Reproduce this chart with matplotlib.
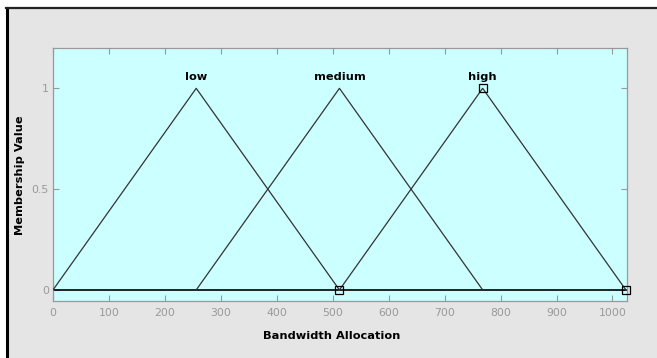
import matplotlib
matplotlib.use("Agg")
import matplotlib.pyplot as plt
from matplotlib.patches import Rectangle
from matplotlib.lines import Line2D

mf_names = ["low", "medium", "high"]
mf_params = [[0, 256, 512], [256, 512, 768], [512, 768, 1024]]
x_range = [0, 1024]
xticks = [0, 100, 200, 300, 400, 500, 600, 700, 800, 900, 1000]
yticks = [0, 0.5, 1]
ytick_labels = ["0", "0.5", "1"]
selected = 2

W, H = 657, 358
fig = plt.figure(figsize=(W / 100, H / 100), dpi=100)
fig.patch.set_facecolor("white")
# gray panel with dark frame on top/left
fig.patches.append(Rectangle((8 / W, 0), 1, (H - 9) / H, transform=fig.transFigure,
                             facecolor="#e5e5e5", edgecolor="none", zorder=-10))
fig.lines.append(Line2D([7 / W, 7 / W], [0, (H - 8) / H], transform=fig.transFigure,
                        color="black", lw=2.2, zorder=-5))
fig.lines.append(Line2D([6 / W, 1], [(H - 8) / H, (H - 8) / H], transform=fig.transFigure,
                        color="#222222", lw=1.6, zorder=-5))

ax = fig.add_axes([53 / W, (H - 301) / H, (627 - 53) / W, (301 - 48) / H])
ax.set_zorder(5)
ax.set_facecolor("#ccffff")
ax.set_xlim(x_range[0], x_range[1] + 2)
ax.set_ylim(-0.055, 1.2)

ax.plot(x_range, [0, 0], color="black", lw=1.2, zorder=2)
for name, (a, b, c) in zip(mf_names, mf_params):
    ax.plot([a, b, c], [0, 1, 0], color="#333333", lw=0.9, zorder=3)
    ax.text(b, 1.03, name, ha="center", va="bottom", fontsize=8.2, fontweight="bold",
            family="DejaVu Sans")
a, b, c = mf_params[selected]
ax.plot([a, b, c], [0, 1, 0], linestyle="none", marker="s", markersize=5.5,
        markerfacecolor="none", markeredgecolor="black", markeredgewidth=0.9, zorder=4,
        clip_on=False)

ax.set_xticks(xticks)
ax.set_yticks(yticks)
ax.set_yticklabels(ytick_labels)
ax.tick_params(direction="in", top=True, right=True, colors="#999999", labelcolor="#999999",
               labelsize=7.8, length=4, width=0.8)
ax.tick_params(axis="x", pad=5)
ax.tick_params(axis="y", pad=3)
for s in ax.spines.values():
    s.set_color("#999999")
    s.set_linewidth(0.9)

ax.set_xlabel("Bandwidth Allocation", fontsize=8.2, fontweight="bold")
ax.set_ylabel("Membership Value", fontsize=8.2, fontweight="bold")
ax.xaxis.set_label_coords((332 - 53) / 574, (301 - 336) / 253)
ax.yaxis.set_label_coords((20 - 53) / 574, (301 - 175) / 253)
ax.xaxis.label.set_va("center")
ax.yaxis.label.set_va("center")

fig.savefig("out.png", dpi=100)
